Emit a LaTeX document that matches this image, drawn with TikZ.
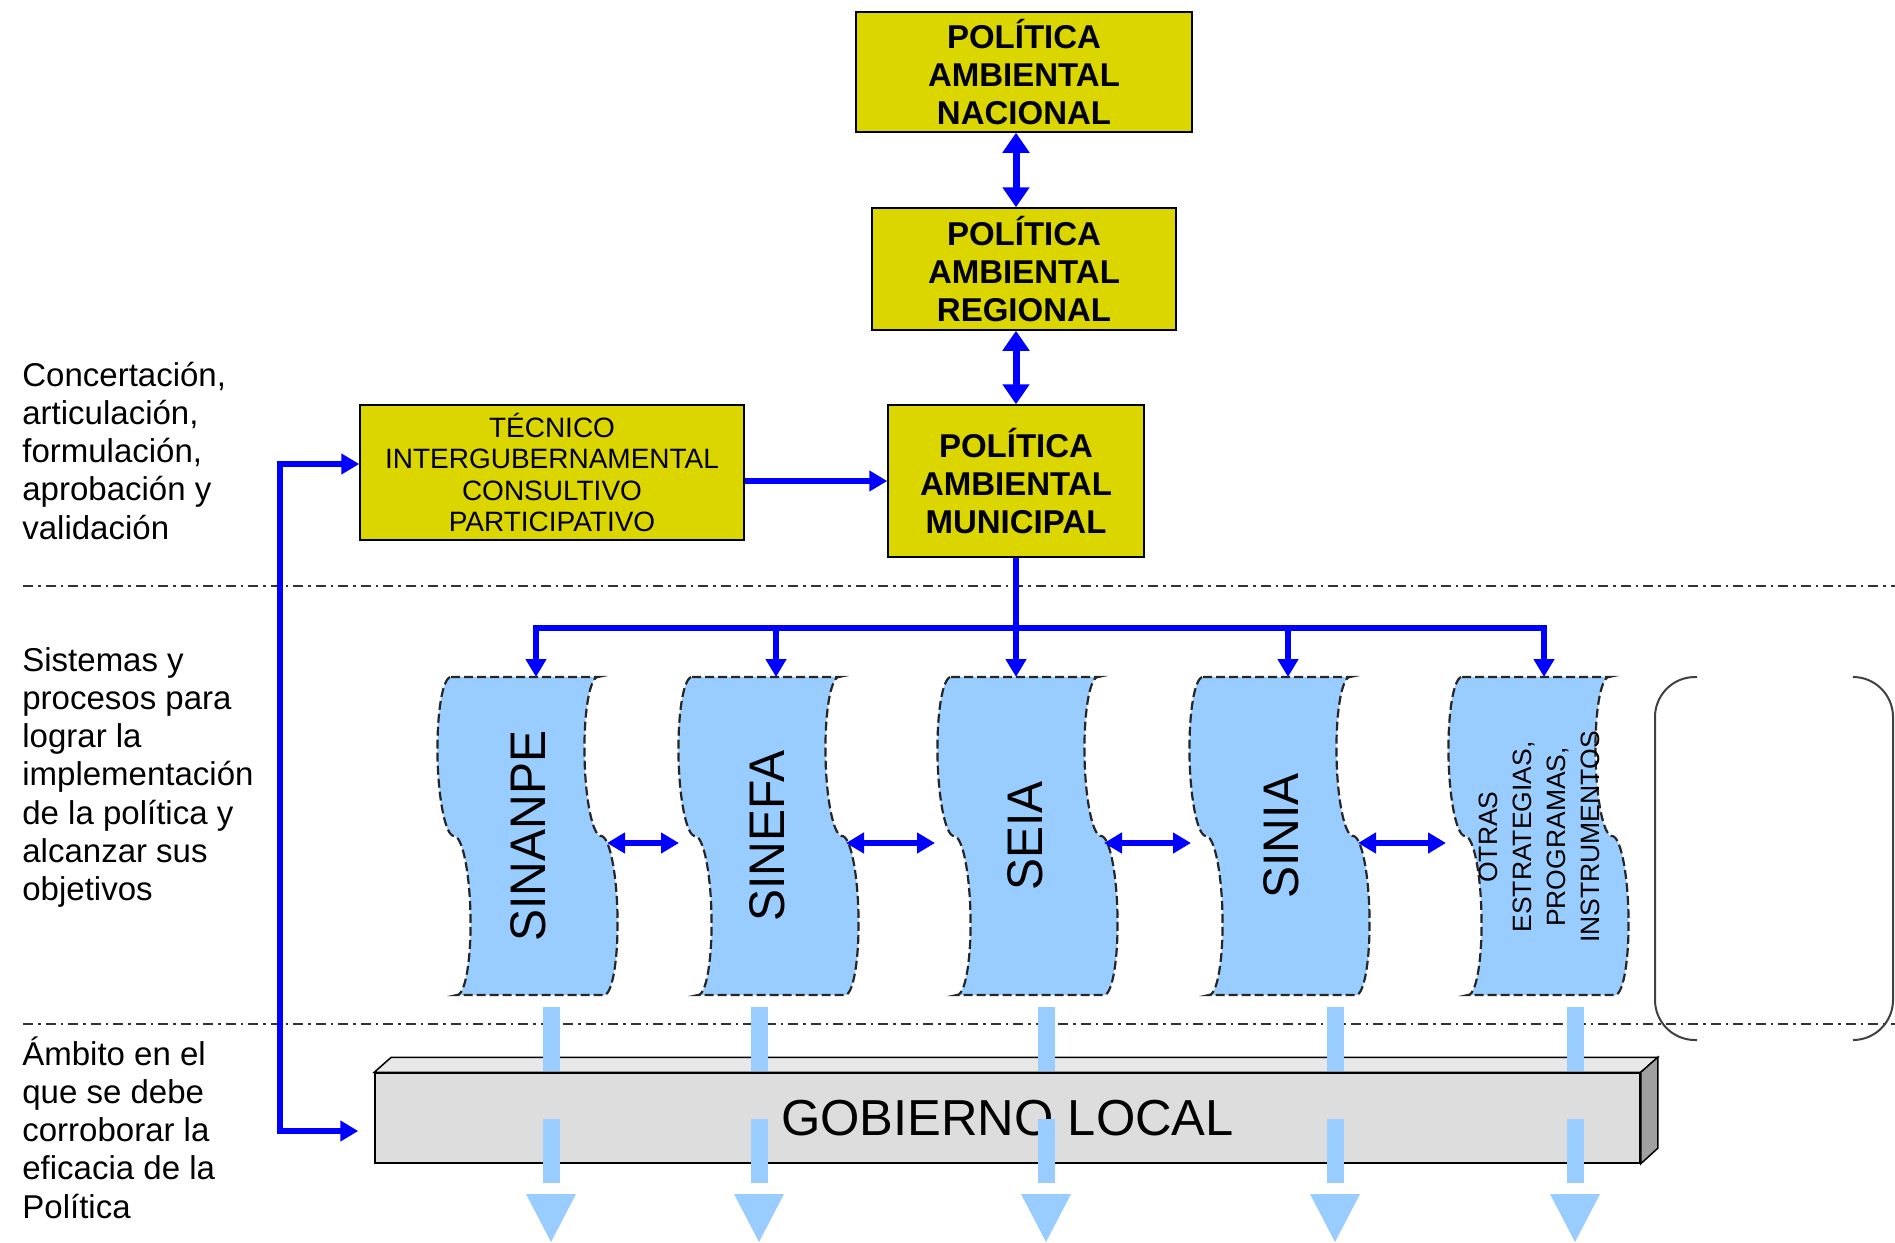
\documentclass[tikz,border=0pt]{standalone}
\usepackage{fontspec}
\setmainfont{Liberation Sans}
\usetikzlibrary{arrows.meta}
\definecolor{polyellow}{RGB}{220,214,0}
\definecolor{tapeblue}{RGB}{153,204,255}
\definecolor{arrowblue}{RGB}{0,0,255}
\definecolor{boxfront}{RGB}{221,221,221}
\definecolor{boxtop}{RGB}{232,232,232}
\definecolor{boxside}{RGB}{160,160,160}
\newcommand{\tapepath}[1]{(#1,677) -- ({#1+147},677)
 -- plot[domain=0:180,samples=40] ({#1+147+6*(1-cos(\x))/4-15*sin(\x)},{677+318*(1-cos(\x))/4})
 -- plot[domain=0:180,samples=40] ({#1+147+6*(0.5+(1-cos(\x))/4)+15*sin(\x)},{677+318*(0.5+(1-cos(\x))/4)})
 -- ({#1+6},995)
 -- plot[domain=180:0,samples=40] ({#1+6*(0.5+(1-cos(\x))/4)+15*sin(\x)},{677+318*(0.5+(1-cos(\x))/4)})
 -- plot[domain=180:0,samples=40] ({#1+6*(1-cos(\x))/4-15*sin(\x)},{677+318*(1-cos(\x))/4})
 -- cycle}
\tikzset{
 lefttext/.style={anchor=base west, inner sep=0pt, font=\fontsize{16.5}{19.15}\selectfont},
 polybox/.style={draw=black, line width=0.75pt, fill=polyellow, align=center, inner sep=0pt,
   font=\fontsize{16.5}{19.15}\selectfont\bfseries},
 tecbox/.style={draw=black, line width=0.75pt, fill=polyellow, align=center, inner sep=0pt,
   font=\fontsize{14}{15.8}\selectfont},
 tape/.style={fill=tapeblue, draw=black!85, line width=1.1pt, dash pattern=on 4.5pt off 2pt},
 tapelabel/.style={rotate=90, inner sep=0pt, font=\fontsize{25}{30}\selectfont},
 otraslabel/.style={rotate=90, inner sep=0pt, align=center, font=\fontsize{13.25}{17}\selectfont},
 dashdotline/.style={draw=black!80, line width=0.75pt, dash pattern=on 5pt off 2.5pt on 1.25pt off 2.5pt},
 bracketline/.style={draw=black!75, line width=1pt, rounded corners=20pt},
 bigarrow/.style={draw=arrowblue, line width=3.5pt,
   {Triangle[length=10pt,width=13pt]}-{Triangle[length=10pt,width=13pt]}},
 flow/.style={draw=arrowblue, line width=2.6pt},
 >={Triangle[length=9pt,width=10pt]},
 barfill/.style={fill=tapeblue}
}
\begin{document}
\begin{tikzpicture}[x=0.5pt,y=-0.5pt]
\useasboundingbox (0,0) rectangle (1895,1242);
% section separators
\draw[dashdotline] (23,586) -- (1895,586);
\draw[dashdotline] (23,1024) -- (1895,1024);
% left labels
\node[lefttext] (lbl1) at (22,386) {\begin{tabular}[t]{@{}l@{}}Concertación,\\articulación,\\formulación,\\aprobación y\\validación\end{tabular}};
\node[lefttext] (lbl2) at (22,671) {\begin{tabular}[t]{@{}l@{}}Sistemas y\\procesos para\\lograr la\\implementación\\de la política y\\alcanzar sus\\objetivos\end{tabular}};
\node[lefttext] (lbl3) at (22,1065) {\begin{tabular}[t]{@{}l@{}}Ámbito en el\\que se debe\\corroborar la\\eficacia de la\\Política\end{tabular}};
% bracket
\draw[bracketline] (1697,677) -- (1655,677) -- (1655,1040) -- (1697,1040);
\draw[bracketline] (1855,677) -- (1893,677) -- (1893,1040) -- (1855,1040);
% tapes
\foreach \tx in {451,692,951,1203,1462} {\path[tape] \tapepath{\tx};}
\node[tapelabel] (sinanpe) at (528,836) {\scalebox{0.96}[1]{SINANPE}};
\node[tapelabel] (sinefa) at (767,836) {\scalebox{0.96}[1]{SINEFA}};
\node[tapelabel] (seia) at (1025,836) {\scalebox{0.96}[1]{SEIA}};
\node[tapelabel] (sinia) at (1281,836) {\scalebox{0.96}[1]{SINIA}};
\node[otraslabel] (otras) at (1539,837) {OTRAS\\ESTRATEGIAS,\\PROGRAMAS,\\INSTRUMENTOS};
% policy boxes
\node[polybox, minimum width=168pt, minimum height=60pt] (nacional) at (1024,72) {POLÍTICA\\AMBIENTAL\\NACIONAL};
\node[polybox, minimum width=152pt, minimum height=61pt] (regional) at (1024,269) {POLÍTICA\\AMBIENTAL\\REGIONAL};
\node[polybox, minimum width=128pt, minimum height=76pt] (municipal) at (1016,481) {POLÍTICA\\AMBIENTAL\\MUNICIPAL};
\node[tecbox, minimum width=192pt, minimum height=67.5pt] (tecnico) at (552,472.5) {TÉCNICO\\INTERGUBERNAMENTAL\\CONSULTIVO\\PARTICIPATIVO};
% gobierno local box
\node[draw=black, line width=0.75pt, fill=boxfront, minimum width=632.5pt, minimum height=45pt, inner sep=0pt,
  font=\fontsize{25.3}{30}\selectfont] (gob) at (1007.5,1118) {GOBIERNO LOCAL};
\draw[line width=0.75pt, fill=boxtop] (gob.north west) -- ++(17,-15) -- ([shift={(17,-15)}]gob.north east) -- (gob.north east) -- cycle;
\draw[line width=0.75pt, fill=boxside] (gob.north east) -- ++(17,-15) -- ++(0,91) -- (gob.south east) -- cycle;
% coordinates
\coordinate (lt) at (280,464);
\coordinate (lb) at (280,1131);
\coordinate (j1) at (536,628);
\coordinate (j2) at (776,628);
\coordinate (j3) at (1016,628);
\coordinate (j4) at (1288,628);
\coordinate (j5) at (1544,628);
\coordinate (t1) at (536,677);
\coordinate (t2) at (776,677);
\coordinate (t3) at (1016,677);
\coordinate (t4) at (1288,677);
\coordinate (t5) at (1544,677);
\coordinate (a1) at (607,843);
\coordinate (b1) at (679,843);
\coordinate (a2) at (846,843);
\coordinate (b2) at (935,843);
\coordinate (a3) at (1104,843);
\coordinate (b3) at (1191,843);
\coordinate (a4) at (1358,843);
\coordinate (b4) at (1446,843);
% connectors
\draw[bigarrow] (nacional.south -| municipal.north) -- (regional.north -| municipal.north);
\draw[bigarrow] (regional.south -| municipal.north) -- (municipal.north);
\draw[flow,->] (tecnico.east |- municipal.center) -- (municipal.west);
\draw[flow,<->,shorten >=8pt] (lt -| tecnico.west) -- (lt) -- (lb) -- (lb -| gob.west);
\draw[flow] (municipal.south) -- (j3);
\draw[flow,<->] (t1) -- (j1) -- (j5) -- (t5);
\draw[flow,->] (j2) -- (t2);
\draw[flow,->] (j3) -- (t3);
\draw[flow,->] (j4) -- (t4);
\draw[flow,<->] (a1) -- (b1);
\draw[flow,<->] (a2) -- (b2);
\draw[flow,<->] (a3) -- (b3);
\draw[flow,<->] (a4) -- (b4);
% light blue flow bars
\foreach \bx in {551,759,1046,1335,1575} {
  \fill[barfill] (\bx-8.5,1007) rectangle (\bx+8.5,1071);
  \fill[barfill] (\bx-8.5,1119) rectangle (\bx+8.5,1183);
  \fill[barfill] (\bx-25,1194) -- (\bx+25,1194) -- (\bx,1242) -- cycle;
}
\end{tikzpicture}
\end{document}
